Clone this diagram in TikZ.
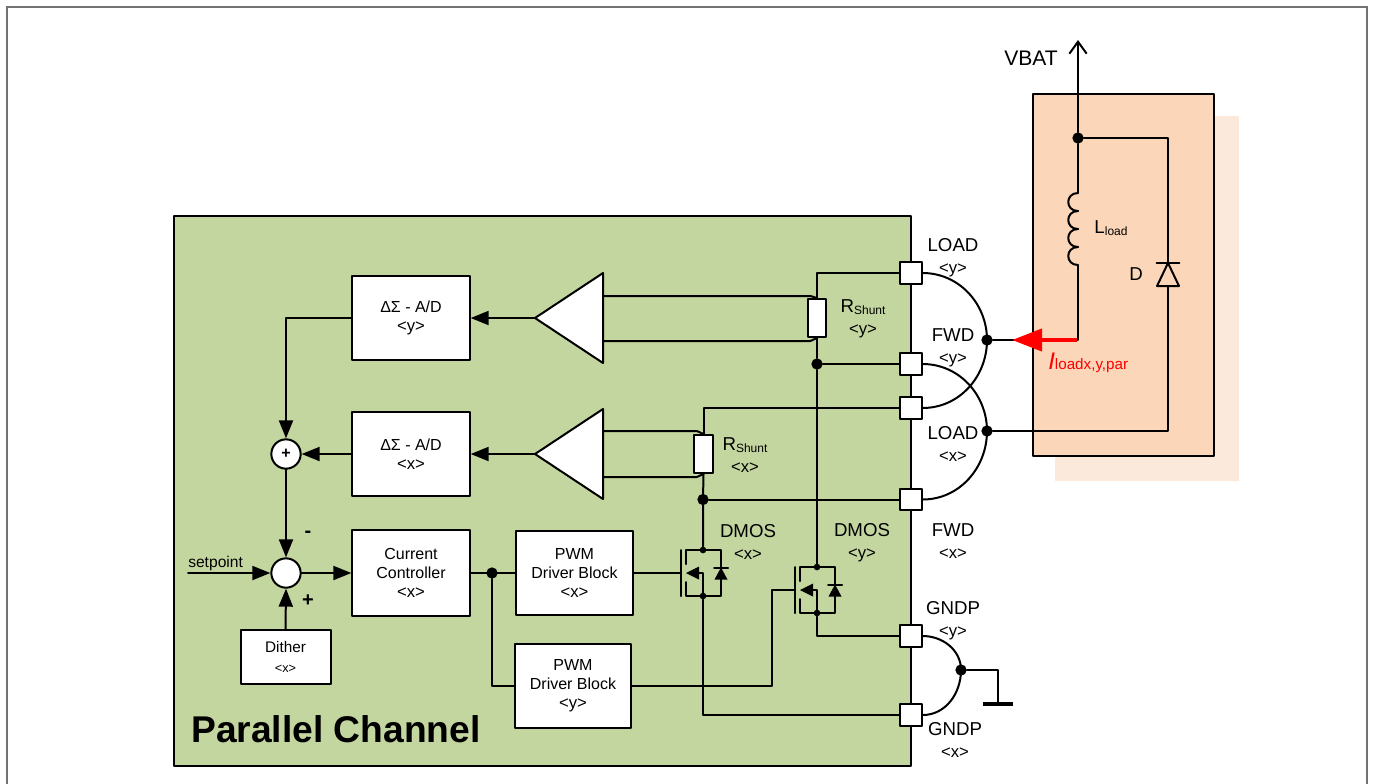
\documentclass[tikz,border=0pt]{standalone}
\usepackage{fontspec}
\setsansfont{Liberation Sans}
\usetikzlibrary{arrows.meta,calc}

\tikzset{
  wire/.style={line width=1.5pt,line cap=round,line join=round},
  sig/.style={wire,-{Triangle[length=13.5pt,width=10.5pt]}},
  blockbox/.style={draw,wire,fill=white,align=center,inner sep=0pt,font=\fontsize{12}{14.4}\selectfont},
  pinbox/.style={draw,wire,fill=white,minimum size=16pt,inner sep=0pt},
  sumnode/.style={draw,wire,fill=white,circle,minimum size=22pt,inner sep=0pt},
  shuntbox/.style={draw,wire,fill=white,minimum width=14pt,minimum height=28.5pt,inner sep=0pt},
  jct/.style={circle,fill=black,inner sep=0pt,minimum size=8.5pt},
  smalljct/.style={circle,fill=black,inner sep=0pt,minimum size=5pt},
  lbl/.style={align=center,inner sep=0pt,font=\fontsize{14}{16.5}\selectfont},
  dmos/.pic={
    \draw[wire] (-22,-23) -- (-22,23);
    \draw[wire] (-17,-9) -- (-17,-23) -- (18,-23) -- (18,23) -- (-17,23) -- (-17,9);
    \draw[wire] (-4,0) -- (0,0) -- (0,23);
    \fill (-17,0) -- (-4,-6.5) -- (-4,6.5) -- cycle;
    \draw[wire] (11,-5.5) -- (25,-5.5);
    \fill (18,-5.5) -- (24.5,6.5) -- (11.5,6.5) -- cycle;
    \node[smalljct] (-d) at (0,-23) {};
    \node[smalljct] (-s) at (0,23) {};
    \coordinate (-g) at (-22,0);
  }
}
\newcommand{\angled}[1]{{\fontsize{12.5}{14}\selectfont <#1>}}
\newcommand{\lowered}[1]{\raisebox{-1.2pt}{\fontsize{9}{9}\selectfont #1}}

\begin{document}
\begin{tikzpicture}[x=0.75pt,y=-0.75pt]
\sffamily
\definecolor{chipgreen}{HTML}{C4D6A0}
\definecolor{loadfront}{HTML}{FBD6B8}
\definecolor{loadback}{HTML}{FBE9DB}
\useasboundingbox (0,0) rectangle (1373,783);
% Page frame, open at the bottom
\draw[black!55,line width=1.2pt] (7,790) -- (7,7) -- (1367,7) -- (1367,790);
% Chip and load backgrounds
\fill[loadback] (1055,116) rectangle (1239,481);
\draw[wire,fill=loadfront] (1033,94) rectangle (1214,456);
\draw[wire,fill=chipgreen] (174,216) rectangle (911,766);
\node[anchor=west,inner sep=0pt,font=\fontsize{27.9}{30}\selectfont\bfseries] (title) at (191,729) {Parallel Channel};

% Blocks
\node[blockbox,minimum width=88pt,minimum height=62.5pt] (adY) at (411,318) {ΔΣ - A/D\\\angled{y}};
\node[blockbox,minimum width=88pt,minimum height=62.5pt] (adX) at (411,454) {ΔΣ - A/D\\\angled{x}};
\node[blockbox,minimum width=88pt,minimum height=64pt] (ctrl) at (411,573) {Current\\Controller\\\angled{x}};
\node[blockbox,minimum width=87.5pt,minimum height=62.5pt] (pwmX) at (574.5,573) {PWM\\Driver Block\\\angled{x}};
\node[blockbox,minimum width=87.5pt,minimum height=62.5pt] (pwmY) at (573,686) {PWM\\Driver Block\\\angled{y}};
\node[blockbox,minimum width=67.5pt,minimum height=40pt,font=\fontsize{11.5}{15}\selectfont] (dither) at (285.5,657) {Dither\\{\fontsize{9.5}{12}\selectfont <x>}};
\node[sumnode,font=\fontsize{12}{12}\selectfont\bfseries] (sumFb) at (286,454) {+};
\node[sumnode] (sumErr) at (286,573) {};

% Amplifiers
\coordinate (ampY) at (535,318);
\coordinate (ampYp) at (603,296);
\coordinate (ampYn) at (603,341);
\coordinate (ampX) at (535,454);
\coordinate (ampXp) at (603,431);
\coordinate (ampXn) at (603,477);
\foreach \a in {ampY,ampX}
  \draw[wire,fill=white] (\a) -- ++(68,-45) -- ++(0,90) -- cycle;

% Shunts and pins
\node[shuntbox] (shuntY) at (817,318) {};
\node[shuntbox] (shuntX) at (703.5,454) {};
\pic (dmosX) at (703,573) {dmos};
\pic (dmosY) at (817,590) {dmos};
\node[jct] (jctY) at (817,364) {};
\node[jct] (jctX) at (703,499.5) {};
\node[jct] (jctC) at (492,573) {};
\coordinate (gateBend) at (772,590);

% Signal path
\coordinate (setIn) at (188,573);
\draw[sig] (ampY) -- (adY.east);
\draw[sig] (ampX) -- (adX.east);
\draw[sig] (adY.west) -| (sumFb.north);
\draw[sig] (adX.west) -- (sumFb.east);
\draw[sig] (sumFb.south) -- (sumErr.north);
\draw[sig] (setIn) -- (sumErr.west);
\draw[sig] (dither.north) -- (sumErr.south);
\draw[sig] (sumErr.east) -- (ctrl.west);
\draw[wire] (ctrl.east) -- (pwmX.west);
\draw[wire] (jctC) |- (pwmY.west);
\draw[wire] (pwmX.east) -- (dmosX-g);
\draw[wire] (pwmY.east) -| (gateBend) -- (dmosY-g);

% Shunt sense lines
\draw[wire] (ampYp) -- ([xshift=-5pt]ampYp -| shuntY.north) -- (shuntY.north);
\draw[wire] (ampYn) -- ([xshift=-5pt]ampYn -| shuntY.south) -- (shuntY.south);
\draw[wire] (ampXp) -- ([xshift=-5pt]ampXp -| shuntX.north) -- (shuntX.north);
\draw[wire] (ampXn) -- ([xshift=-5pt]ampXn -| shuntX.south) -- (shuntX.south);

% Pins on the chip edge
\node[pinbox] (pinLoadY) at (911,273) {};
\node[pinbox] (pinFwdY) at (911,364) {};
\node[pinbox] (pinLoadX) at (911,408) {};
\node[pinbox] (pinFwdX) at (911,499.5) {};
\node[pinbox] (pinGndY) at (911,636) {};
\node[pinbox] (pinGndX) at (911,715) {};

% Power wiring
\draw[wire] (pinLoadY.west) -| (shuntY.north);
\draw[wire] (shuntY.south) -- (jctY) -- (dmosY-d);
\draw[wire] (jctY) -- (pinFwdY.west);
\draw[wire] (pinLoadX.west) -| (shuntX.north);
\draw[wire] (shuntX.south) -- (jctX) -- (dmosX-d);
\draw[wire] (jctX) -- (pinFwdX.west);
\draw[wire] (dmosY-s) |- (pinGndY.west);
\draw[wire] (dmosX-s) |- (pinGndX.west);

% Bonds outside the chip
\node[jct] (jctFwd) at (987,340) {};
\node[jct] (jctLoad) at (987,431) {};
\node[jct] (jctGnd) at (961,670) {};
\draw[wire] (pinLoadY.east) to[out=0,in=90] (jctFwd.center) to[out=-90,in=0] (pinLoadX.east);
\draw[wire] (pinFwdY.east) to[out=0,in=90] (jctLoad.center) to[out=-90,in=0] (pinFwdX.east);
\draw[wire] (pinGndY.east) to[out=0,in=90] (jctGnd.center) to[out=-90,in=0] (pinGndX.east);
\coordinate (gndBar) at (998,704);
\draw[wire] (jctGnd) -| (gndBar);
\draw[line width=3pt] ([xshift=-11pt]gndBar) -- ([xshift=11pt]gndBar);

% Load
\node[jct] (jctBat) at (1078,138) {};
\coordinate (vbatEnd) at (1078,40);
\coordinate (coilTop) at (1078,193);
\coordinate (coilBot) at (1078,265);
\coordinate (redStart) at (1077,340);
\coordinate (redTip) at (1012,340);
\coordinate (diodeD) at (1168,263);
\draw[wire,-{Straight Barb[length=9pt,width=13pt]}] (jctBat) -- (vbatEnd);
\draw[wire] (jctBat) -- (coilTop);
\foreach \i in {193,211,229,247}
  \draw[wire] (1078,\i) .. controls (1065,\i) and (1065,\i+18) .. (1078,\i+18);
\draw[wire] (coilBot) -- (1078,340) -- (jctFwd);
\draw[wire] (jctBat) -| (diodeD);
\draw[wire] (diodeD) |- (jctLoad);
\draw[wire,fill=loadfront] (diodeD) -- ++(11,23) -- ++(-22,0) -- cycle;
\draw[wire] ([xshift=-8.5pt]diodeD) -- ([xshift=8.5pt]diodeD);
\draw[red,line width=3pt,-{Triangle[length=22.5pt,width=16.5pt]}] (redStart) -- (redTip);

% Labels
\node[lbl,font=\fontsize{15.8}{18}\selectfont] (vbat) at (1031,58) {VBAT};
\node[lbl] (lLoadY) at (953,257.5) {LOAD\\\angled{y}};
\node[lbl] (lFwdY) at (953,347.5) {FWD\\\angled{y}};
\node[lbl] (lLoadX) at (953,444) {LOAD\\\angled{x}};
\node[lbl] (lFwdX) at (953,541) {FWD\\\angled{x}};
\node[lbl] (lGndY) at (953,620.5) {GNDP\\\angled{y}};
\node[lbl] (lGndX) at (955,740) {GNDP\\\angled{x}};
\node[lbl] (lDmosX) at (748,542) {DMOS\\\angled{x}};
\node[lbl] (lDmosY) at (862,543) {DMOS\\\angled{y}};
\node[lbl] (lShuntY) at (863,319) {R\lowered{Shunt}\\\angled{y}};
\node[lbl] (lShuntX) at (745,455) {R\lowered{Shunt}\\\angled{x}};
\node[lbl] (lCoil) at (1111,228) {L\lowered{load}};
\node[lbl] (lDiode) at (1136,274) {D};
\node[lbl,anchor=west,text=red,font=\fontsize{11.4}{13}\selectfont] (lCur) at (1048,363) {{\fontsize{18}{18}\selectfont\itshape I}loadx,y,par};
\node[lbl,anchor=west,font=\fontsize{11.7}{13}\selectfont] (lSet) at (188,563) {setpoint};
\node[lbl,font=\fontsize{15}{15}\selectfont\bfseries] (lMinus) at (308,534) {-};
\node[lbl,font=\fontsize{15}{15}\selectfont\bfseries] (lPlus) at (308,601) {+};
\end{tikzpicture}
\end{document}
